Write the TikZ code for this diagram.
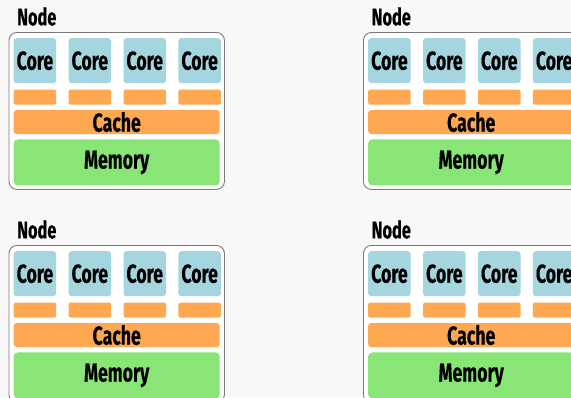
\documentclass[tikz,border=0pt]{standalone}
\usepackage{fontspec}
\setmainfont{Fira Sans}[FakeStretch=0.68, BoldFeatures={FakeBold=0.3}]
\usepackage{xcolor}
\usetikzlibrary{positioning}

\definecolor{coreblue}{HTML}{A5D5DF}
\definecolor{cacheorange}{HTML}{FFA852}
\definecolor{memgreen}{HTML}{88E576}
\definecolor{bggray}{HTML}{F8F8F8}
\definecolor{boxgray}{HTML}{7A7A7A}

\tikzset{
  nodebox/.style={draw=boxgray, line width=0.9pt, fill=white, rounded corners=8pt, anchor=north west, inner sep=0pt, minimum width=215.5pt, minimum height=157pt},
  nodelabel/.style={inner sep=0pt, font=\bfseries\fontsize{24}{24}\selectfont},
  corebox/.style={fill=coreblue, rounded corners=3pt, inner sep=0pt, minimum width=42.5pt, minimum height=45pt, font=\bfseries\fontsize{26}{26}\selectfont},
  l2box/.style={fill=cacheorange, rounded corners=2pt, inner sep=0pt, minimum width=42.5pt, minimum height=15pt},
  cachebox/.style={fill=cacheorange, rounded corners=3pt, inner sep=0pt, minimum width=206pt, minimum height=24pt, font=\bfseries\fontsize{26}{26}\selectfont},
  membox/.style={fill=memgreen, rounded corners=4pt, inner sep=0pt, minimum width=206pt, minimum height=46pt, font=\bfseries\fontsize{26}{26}\selectfont}
}

\begin{document}
\begin{tikzpicture}[x=1pt, y=-1pt]
    \useasboundingbox (0,0) rectangle (571,397);
    \clip (0,0) rectangle (571,397);
    \fill[bggray] (0,0) rectangle (571,397);

    % four compute nodes
    \foreach \ox/\oy [count=\n] in {0/0, 354.5/0, 0/213, 354.5/213} {
        \node[nodebox] (box\n) at (8.5+\ox, 32+\oy) {};
        \node[nodelabel, above right=6pt and 8.5pt of box\n.north west] (label\n) {Node};

        % cores with their private caches
        \node[corebox, below right=6pt and 5pt of box\n.north west] (core\n-1) {Core};
        \foreach \i [evaluate=\i as \j using int(\i-1)] in {2,3,4}
            \node[corebox, right=12pt of core\n-\j] (core\n-\i) {Core};
        \foreach \i in {1,...,4}
            \node[l2box, below=6pt of core\n-\i] (l2\n-\i) {};

        \node[cachebox, below right=5pt and 0pt of l2\n-1.south west] (cache\n) {Cache};
        \node[membox, below right=5pt and 0pt of cache\n.south west] (mem\n) {Memory};
    }
\end{tikzpicture}
\end{document}
